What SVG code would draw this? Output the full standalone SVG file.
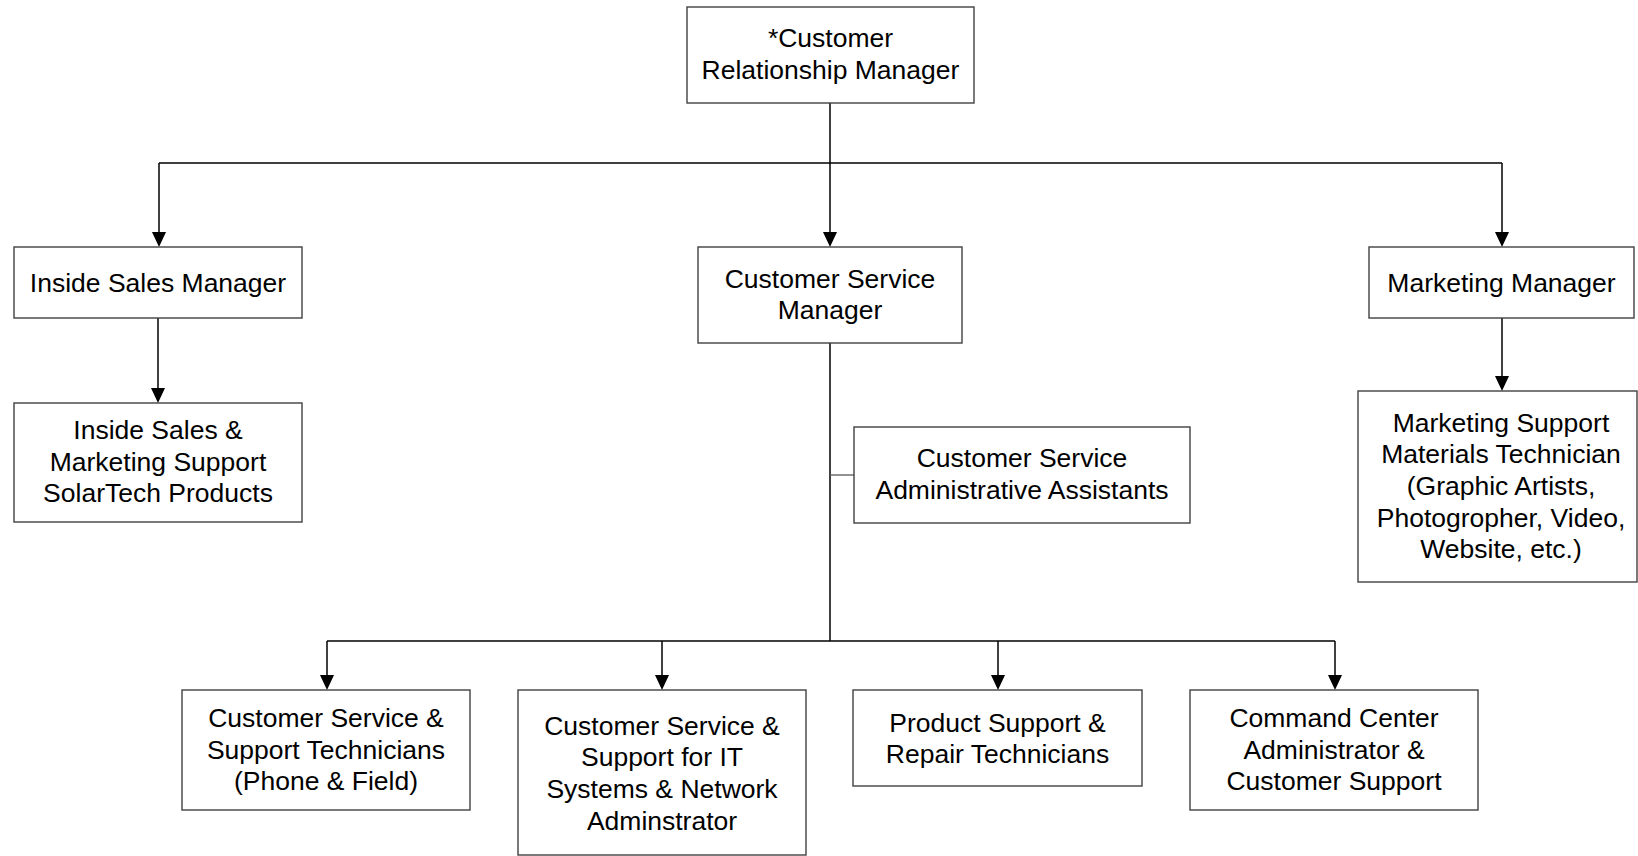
<svg xmlns="http://www.w3.org/2000/svg" width="1638" height="856" viewBox="0 0 1638 856">
<style>
.box{fill:#fff;stroke:#404040;stroke-width:1.4}
.t{font-family:"Liberation Sans",Arial,sans-serif;font-size:26.5px;fill:#000;text-anchor:middle}
.c{fill:none;stroke:#000;stroke-width:1.5}
.a{fill:none;stroke:#000;stroke-width:1.5;marker-end:url(#arr)}
.g{fill:none;stroke:#555;stroke-width:1.3}
</style>
<defs>
<marker id="arr" markerUnits="userSpaceOnUse" markerWidth="14" markerHeight="16" viewBox="0 0 14 16" refX="7" refY="16" orient="auto-start-reverse">
<path d="M0,0 L14,0 L7,16 Z" fill="#000" transform="rotate(-90 7 8) rotate(90 7 8)"/>
</marker>
</defs>
<rect width="1638" height="856" fill="#fff"/>
<g id="connectors">
<line class="c" x1="830" y1="103" x2="830" y2="163"/>
<line class="c" x1="159" y1="163" x2="1502" y2="163"/>
<path class="c" d="M830,163 L830,232"/>
<path d="M823,232 L837,232 L830,247 Z"/>
<path class="c" d="M159,163 L159,232"/>
<path d="M152,232 L166,232 L159,247 Z"/>
<path class="c" d="M1502,163 L1502,232"/>
<path d="M1495,232 L1509,232 L1502,247 Z"/>
<path class="c" d="M158,318 L158,388"/>
<path d="M151,388 L165,388 L158,403 Z"/>
<path class="c" d="M1502,318 L1502,376"/>
<path d="M1495,376 L1509,376 L1502,391 Z"/>
<line class="c" x1="830" y1="343" x2="830" y2="641"/>
<line class="g" x1="830" y1="475" x2="854" y2="475"/>
<line class="c" x1="327" y1="641" x2="1335" y2="641"/>
<path class="c" d="M327,641 L327,675"/>
<path d="M320,675 L334,675 L327,690 Z"/>
<path class="c" d="M662,641 L662,675"/>
<path d="M655,675 L669,675 L662,690 Z"/>
<path class="c" d="M998,641 L998,675"/>
<path d="M991,675 L1005,675 L998,690 Z"/>
<path class="c" d="M1335,641 L1335,675"/>
<path d="M1328,675 L1342,675 L1335,690 Z"/>
</g>
<g id="crm">
<rect class="box" x="687" y="7" width="287" height="96"/>
<text class="t" x="830.5" y="47">*Customer</text>
<text class="t" x="830.5" y="79">Relationship Manager</text>
</g>
<g id="ism">
<rect class="box" x="14" y="247" width="288" height="71"/>
<text class="t" x="158" y="291.5">Inside Sales Manager</text>
</g>
<g id="csm">
<rect class="box" x="698" y="247" width="264" height="96"/>
<text class="t" x="830" y="287.5">Customer Service</text>
<text class="t" x="830" y="318.5">Manager</text>
</g>
<g id="mm">
<rect class="box" x="1369" y="247" width="265" height="71"/>
<text class="t" x="1501.5" y="291.5">Marketing Manager</text>
</g>
<g id="isms">
<rect class="box" x="14" y="403" width="288" height="119"/>
<text class="t" x="158" y="439">Inside Sales &amp;</text>
<text class="t" x="158" y="470.5">Marketing Support</text>
<text class="t" x="158" y="502">SolarTech Products</text>
</g>
<g id="csa">
<rect class="box" x="854" y="427" width="336" height="96"/>
<text class="t" x="1022" y="467">Customer Service</text>
<text class="t" x="1022" y="498.5">Administrative Assistants</text>
</g>
<g id="mst">
<rect class="box" x="1358" y="391" width="279" height="191"/>
<text class="t" x="1501" y="431.5">Marketing Support</text>
<text class="t" x="1501" y="463">Materials Technician</text>
<text class="t" x="1501" y="495">(Graphic Artists,</text>
<text class="t" x="1501" y="527">Photogropher, Video,</text>
<text class="t" x="1501" y="558">Website, etc.)</text>
</g>
<g id="cst">
<rect class="box" x="182" y="690" width="288" height="120"/>
<text class="t" x="326" y="727">Customer Service &amp;</text>
<text class="t" x="326" y="758.5">Support Technicians</text>
<text class="t" x="326" y="790">(Phone &amp; Field)</text>
</g>
<g id="csit">
<rect class="box" x="518" y="690" width="288" height="165"/>
<text class="t" x="662" y="734.5">Customer Service &amp;</text>
<text class="t" x="662" y="766">Support for IT</text>
<text class="t" x="662" y="798">Systems &amp; Network</text>
<text class="t" x="662" y="830">Adminstrator</text>
</g>
<g id="psr">
<rect class="box" x="853" y="690" width="289" height="96"/>
<text class="t" x="997.5" y="731.5">Product Support &amp;</text>
<text class="t" x="997.5" y="763">Repair Technicians</text>
</g>
<g id="cca">
<rect class="box" x="1190" y="690" width="288" height="120"/>
<text class="t" x="1334" y="727">Command Center</text>
<text class="t" x="1334" y="758.5">Administrator &amp;</text>
<text class="t" x="1334" y="790">Customer Support</text>
</g>
</svg>
